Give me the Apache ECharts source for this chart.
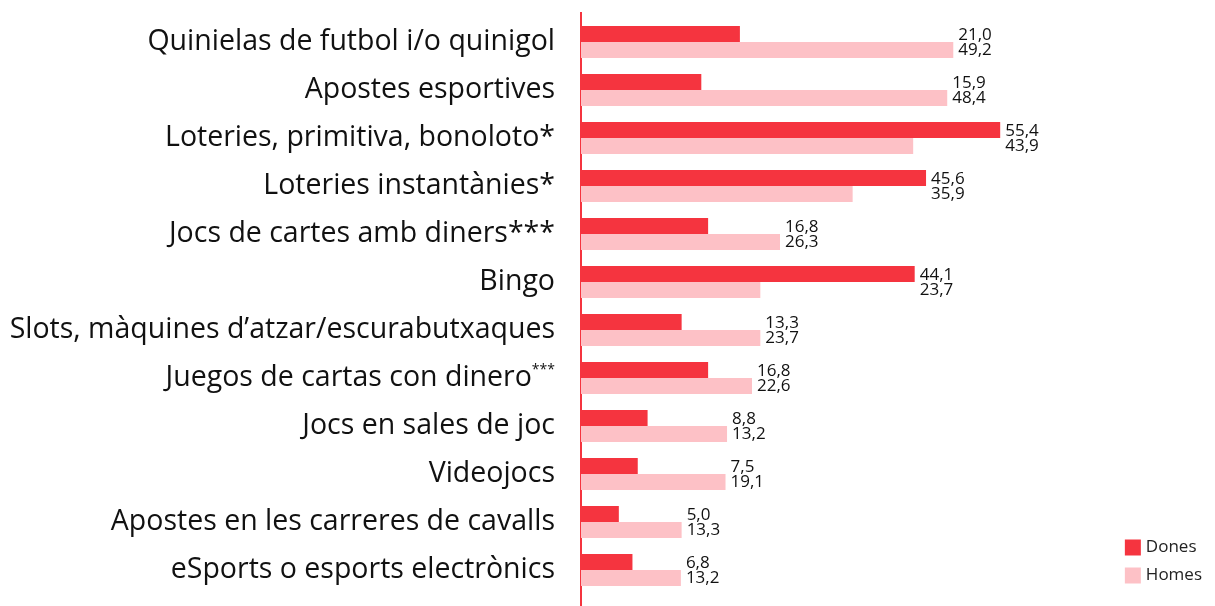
<!DOCTYPE html>
<html>
<head>
<meta charset="utf-8">
<script src="https://cdn.jsdelivr.net/npm/echarts@6/dist/echarts.min.js"></script>
<style>
html, body { margin: 0; padding: 0; background: #fff; }
#chart { width: 1215px; height: 606px; }
</style>
</head>
<body>
<div id="chart"></div>
<script>
// categories, top to bottom; a trailing ^ marks a superscript note
var categories = [
    'Quinielas de futbol i/o quinigol',
    'Apostes esportives',
    'Loteries, primitiva, bonoloto*',
    'Loteries instantànies*',
    'Jocs de cartes amb diners***',
    'Bingo',
    'Slots, màquines d\u2019atzar/escurabutxaques',
    'Juegos de cartas con dinero^***',
    'Jocs en sales de joc',
    'Videojocs',
    'Apostes en les carreres de cavalls',
    'eSports o esports electrònics'
];
// bar lengths as drawn
var dones = [21.0, 15.9, 55.4, 45.6, 16.8, 44.1, 13.3, 16.8, 8.8, 7.5, 5.0, 6.8];
var homes = [49.2, 48.4, 43.9, 35.9, 26.3, 23.7, 23.7, 22.6, 19.3, 19.1, 13.3, 13.2];
// value labels as printed (the "Jocs en sales de joc" bar is longer than its label)
var donesLabels = ['21,0', '15,9', '55,4', '45,6', '16,8', '44,1', '13,3', '16,8', '8,8', '7,5', '5,0', '6,8'];
var homesLabels = ['49,2', '48,4', '43,9', '35,9', '26,3', '23,7', '23,7', '22,6', '13,2', '19,1', '13,3', '13,2'];

var RED = '#f5343f';
var PINK = '#fdc1c6';
var FONT = 'Open Sans';

var labelData = categories.map(function (c, i) {
    return [Math.max(dones[i], homes[i]), i];
});

var myChart = echarts.init(document.getElementById('chart'));

var option = {
    animation: false,
    textStyle: { fontFamily: FONT },
    grid: {
        left: 581,
        right: 180,
        top: 18,
        bottom: 12,
        containLabel: false,
        outerBoundsMode: 'none'
    },
    legend: {
        data: ['Dones', 'Homes'],
        orient: 'vertical',
        right: 8,
        bottom: 17,
        itemWidth: 16,
        itemHeight: 16,
        itemGap: 11,
        icon: 'rect',
        textStyle: { fontSize: 17, color: '#222', fontFamily: FONT }
    },
    xAxis: {
        type: 'value',
        min: 0,
        max: 60,
        show: false
    },
    yAxis: {
        type: 'category',
        data: categories,
        inverse: true,
        axisLine: { show: true, lineStyle: { color: RED, width: 2 } },
        axisTick: { show: false },
        axisLabel: {
            margin: 26,
            fontSize: 28.5,
            color: '#111',
            fontFamily: FONT,
            formatter: function (v) {
                var k = v.indexOf('^');
                if (k < 0) return v;
                return v.slice(0, k) + '{sup|' + v.slice(k + 1) + '}';
            },
            rich: {
                sup: { fontSize: 14, color: '#111', fontFamily: FONT, padding: [0, 0, 16, 0] }
            }
        }
    },
    series: [
        {
            name: 'Dones',
            type: 'bar',
            data: dones,
            barWidth: 16,
            barGap: '0%',
            itemStyle: { color: RED }
        },
        {
            name: 'Homes',
            type: 'bar',
            data: homes,
            barWidth: 16,
            barGap: '0%',
            itemStyle: { color: PINK }
        },
        {
            type: 'custom',
            data: labelData,
            encode: { x: 0, y: 1 },
            silent: true,
            renderItem: function (params, api) {
                var i = params.dataIndex;
                var pt = api.coord([api.value(0), api.value(1)]);
                var st = { fontSize: 17, fontFamily: FONT, fill: '#111', verticalAlign: 'middle', align: 'left' };
                return {
                    type: 'group',
                    children: [
                        { type: 'text', x: pt[0] + 5, y: pt[1] - 7,
                          style: Object.assign({ text: donesLabels[i] }, st) },
                        { type: 'text', x: pt[0] + 5, y: pt[1] + 8,
                          style: Object.assign({ text: homesLabels[i] }, st) }
                    ]
                };
            }
        }
    ]
};

myChart.setOption(option);

// extend the red axis line to the full height, as in the source
var x0 = myChart.convertToPixel({ xAxisIndex: 0 }, 0);
myChart.setOption({
    graphic: [{
        type: 'line',
        shape: { x1: x0, y1: 12, x2: x0, y2: 606 },
        style: { stroke: RED, lineWidth: 2 },
        silent: true
    }]
});
</script>
</body>
</html>
